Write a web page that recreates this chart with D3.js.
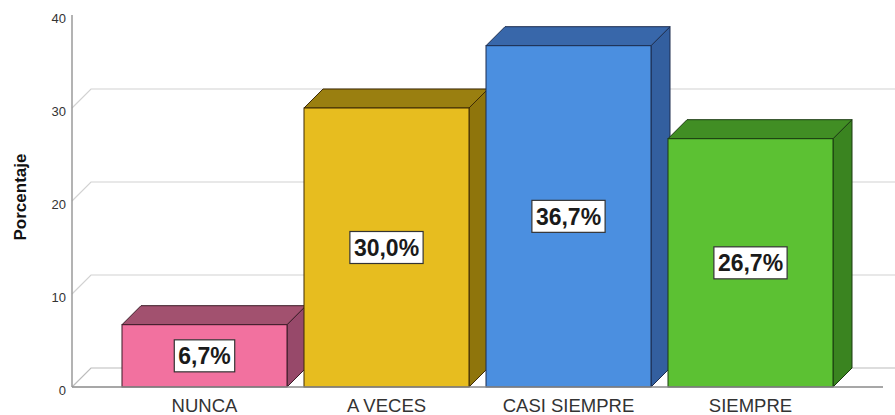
<!DOCTYPE html>
<html>
<head>
<meta charset="utf-8">
<script src="https://cdn.jsdelivr.net/npm/d3@7"></script>
<style>
  html, body { margin: 0; padding: 0; background: #ffffff; }
  svg { display: block; }
  text { font-family: "Liberation Sans", Arial, sans-serif; }
</style>
</head>
<body>
<svg id="chart" width="895" height="415"></svg>
<script>
// Frequency categories and their percentages
const categories = ["NUNCA", "A VECES", "CASI SIEMPRE", "SIEMPRE"];
const percentages = [6.7, 30.0, 36.7, 26.7];
const yTicks = [0, 10, 20, 30, 40];
const frontColors = ["#f2719f", "#e7bd1f", "#4b8fe0", "#5cc133"];
const topColors   = ["#a2516f", "#9a7f10", "#3867aa", "#418e24"];
const sideColors  = ["#97496a", "#8f750c", "#335f9f", "#3a8420"];
const edgeColors  = ["#3a1a26", "#3e2a05", "#1c2d4f", "#1a3a10"];

const svg = d3.select("#chart");

// depth offset of the 3D extrusion
const DX = 19, DY = 19;

const y = d3.scaleLinear().domain([0, 40]).range([387, 15]);
const x = d3.scaleBand()
  .domain(categories)
  .range([72, 883])
  .paddingInner(17 / 182)
  .paddingOuter(0.2747);

const grid = svg.append("g");
// back-wall gridlines with the diagonal joining them to the axis
yTicks.filter(v => v > 0).forEach(v => {
  const yy = y(v);
  if (yy - DY < 0) return;
  grid.append("path")
    .attr("d", `M72,${yy} L${72 + DX},${yy - DY} L895,${yy - DY}`)
    .attr("fill", "none")
    .attr("stroke", "#d2d2d2")
    .attr("stroke-width", 1.2);
});
// floor back edge
grid.append("path")
  .attr("d", `M72,${y(0)} L${72 + DX},${y(0) - DY} L895,${y(0) - DY}`)
  .attr("fill", "none")
  .attr("stroke", "#bcbcbc")
  .attr("stroke-width", 1.2);

// bars
const bars = svg.append("g");
categories.forEach((c, i) => {
  const v = percentages[i];
  const x0 = x(c), x1 = x(c) + x.bandwidth();
  const yt = y(v), yb = y(0);
  const g = bars.append("g");
  g.append("path")
    .attr("d", `M${x1},${yt} L${x1 + DX},${yt - DY} L${x1 + DX},${yb - DY} L${x1},${yb} Z`)
    .attr("fill", sideColors[i])
    .attr("stroke", edgeColors[i]).attr("stroke-width", 1).attr("stroke-linejoin", "round");
  g.append("path")
    .attr("d", `M${x0},${yt} L${x0 + DX},${yt - DY} L${x1 + DX},${yt - DY} L${x1},${yt} Z`)
    .attr("fill", topColors[i])
    .attr("stroke", edgeColors[i]).attr("stroke-width", 1).attr("stroke-linejoin", "round");
  g.append("rect")
    .attr("x", x0).attr("y", yt)
    .attr("width", x1 - x0).attr("height", yb - yt)
    .attr("fill", frontColors[i])
    .attr("stroke", edgeColors[i]).attr("stroke-width", 1);
});

// front baseline
svg.append("line")
  .attr("x1", 72).attr("x2", 883)
  .attr("y1", y(0)).attr("y2", y(0))
  .attr("stroke", "#8a8a8a").attr("stroke-width", 1.5);

// y axis line
svg.append("line")
  .attr("x1", 72).attr("x2", 72)
  .attr("y1", y(40)).attr("y2", y(0))
  .attr("stroke", "#9a9a9a").attr("stroke-width", 1.5);

// y axis ticks
const yAxis = svg.append("g")
  .attr("transform", "translate(72,0)")
  .call(d3.axisLeft(y).tickValues(yTicks).tickSize(0).tickPadding(6));
yAxis.select(".domain").remove();
yAxis.selectAll("text")
  .attr("dy", "0.55em")
  .style("font-size", "13px")
  .style("font-family", "\"Liberation Sans\", Arial, sans-serif")
  .attr("fill", "#333");

// x axis labels
const xAxis = svg.append("g")
  .attr("transform", `translate(0,${y(0)})`)
  .call(d3.axisBottom(x).tickSize(0).tickPadding(12));
xAxis.select(".domain").remove();
xAxis.selectAll("text")
  .style("font-size", "18.5px")
  .style("font-family", "\"Liberation Sans\", Arial, sans-serif")
  .attr("fill", "#333");

// y axis title
svg.append("text")
  .attr("transform", "translate(26,197) rotate(-90)")
  .attr("text-anchor", "middle")
  .style("font-size", "17px")
  .style("font-weight", "bold")
  .attr("fill", "#111")
  .text("Porcentaje");

// value labels in white boxes
const fmt = v => d3.format(".1f")(v).replace(".", ",") + "%";
const labels = svg.append("g");
categories.forEach((c, i) => {
  const v = percentages[i];
  const cx = x(c) + x.bandwidth() / 2;
  const cy = (y(v) + y(0)) / 2;
  const g = labels.append("g").attr("transform", `translate(${cx},${cy})`);
  const t = g.append("text")
    .attr("text-anchor", "middle")
    .attr("dy", "0.36em")
    .style("font-size", "23px")
    .style("font-weight", "bold")
    .attr("fill", "#1a1a1a")
    .text(fmt(v));
  const bb = t.node().getBBox();
  g.insert("rect", "text")
    .attr("x", bb.x - 4).attr("y", -16)
    .attr("width", bb.width + 8).attr("height", 32)
    .attr("fill", "#ffffff")
    .attr("stroke", "#333")
    .attr("stroke-width", 1.2);
});
</script>
</body>
</html>
